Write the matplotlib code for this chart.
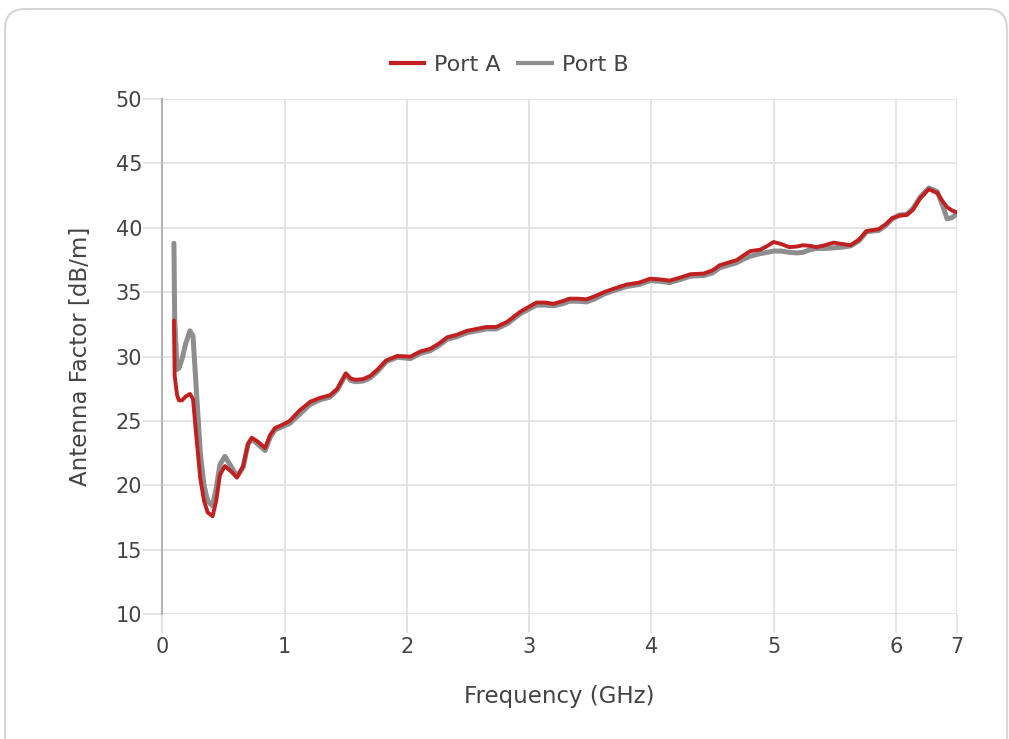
import matplotlib
matplotlib.use("Agg")
import matplotlib.pyplot as plt
from matplotlib.patches import FancyBboxPatch
from matplotlib.lines import Line2D

# frequency points (GHz)
freq = [0.094, 0.10, 0.12, 0.135, 0.16, 0.19, 0.225, 0.25, 0.28, 0.31,
        0.34, 0.37, 0.41, 0.44, 0.47, 0.51, 0.56, 0.61, 0.66, 0.70,
        0.73, 0.78, 0.84, 0.88, 0.92, 0.98, 1.04, 1.12, 1.21, 1.29,
        1.37, 1.43, 1.50, 1.54, 1.58, 1.64, 1.70, 1.76, 1.83, 1.92,
        2.03, 2.11, 2.19, 2.26, 2.33, 2.41, 2.49, 2.57, 2.65, 2.73,
        2.82, 2.93, 3.06, 3.13, 3.20, 3.27, 3.33, 3.40, 3.47, 3.54,
        3.61, 3.70, 3.80, 3.90, 3.99, 4.07, 4.15, 4.24, 4.32, 4.43,
        4.50, 4.56, 4.63, 4.70, 4.76, 4.81, 4.89, 4.95, 5.00, 5.06,
        5.13, 5.19, 5.24, 5.30, 5.35, 5.42, 5.49, 5.56, 5.63, 5.70,
        5.76, 5.86, 5.92, 5.97, 6.03, 6.09, 6.14, 6.20, 6.27, 6.34,
        6.38, 6.42, 6.46, 6.50]

port_a = [32.8, 28.5, 27.0, 26.6, 26.6, 26.9, 27.1, 26.7, 23.5, 20.5,
          18.8, 17.9, 17.6, 18.8, 20.8, 21.5, 21.1, 20.6, 21.5, 23.2,
          23.7, 23.4, 22.9, 23.9, 24.45, 24.7, 25.0, 25.8, 26.5, 26.8,
          27.0, 27.5, 28.7, 28.3, 28.2, 28.25, 28.5, 29.0, 29.7, 30.05,
          30.0, 30.4, 30.6, 31.0, 31.5, 31.7, 32.0, 32.15, 32.3, 32.3,
          32.7, 33.5, 34.2, 34.2, 34.1, 34.3, 34.5, 34.5, 34.45, 34.7,
          35.0, 35.3, 35.6, 35.75, 36.05, 36.0, 35.9, 36.15, 36.4, 36.45,
          36.7, 37.1, 37.3, 37.5, 37.9, 38.2, 38.3, 38.6, 38.9, 38.75,
          38.5, 38.55, 38.65, 38.6, 38.5, 38.65, 38.85, 38.75, 38.65, 39.1,
          39.75, 39.9, 40.3, 40.75, 40.95, 41.0, 41.4, 42.3, 43.0, 42.7,
          42.1, 41.6, 41.35, 41.2]

port_b = [38.8, 33.0, 29.0, 29.1, 29.8, 31.0, 32.0, 31.6, 27.0, 22.5,
          20.0, 18.8, 18.4, 19.8, 21.6, 22.25, 21.5, 20.7, 21.4, 23.2,
          23.6, 23.2, 22.7, 23.7, 24.3, 24.55, 24.8, 25.5, 26.3, 26.65,
          26.85, 27.4, 28.6, 28.15, 28.05, 28.1, 28.35, 28.85, 29.6, 29.95,
          29.85, 30.25, 30.45, 30.85, 31.35, 31.55, 31.85, 32.0, 32.15, 32.15,
          32.55, 33.35, 34.0, 34.0, 33.95, 34.1, 34.3, 34.3, 34.25, 34.5,
          34.85, 35.15, 35.45, 35.6, 35.9, 35.85, 35.75, 36.0, 36.25, 36.3,
          36.5, 36.9, 37.1, 37.3, 37.6, 37.8, 38.0, 38.1, 38.2, 38.2,
          38.1, 38.05, 38.1, 38.3, 38.4, 38.4, 38.45, 38.5, 38.6, 39.0,
          39.7, 39.8, 40.2, 40.7, 41.0, 41.05, 41.5, 42.4, 43.1, 42.8,
          41.8, 40.7, 40.8, 41.1]

x_ticks = [0, 1, 2, 3, 4, 5, 6, 6.5]
x_tick_labels = ["0", "1", "2", "3", "4", "5", "6", "7"]
y_ticks = [10, 15, 20, 25, 30, 35, 40, 45, 50]

plt.rcParams['font.family'] = ['DejaVu Sans']
text_color = '#444444'
grid_color = '#e2e2e2'

fig = plt.figure(figsize=(10.09, 7.39), dpi=100)

# rounded card outline
card = FancyBboxPatch((0.25, -0.5), 9.62, 7.6,
                      boxstyle="round,pad=0.2,rounding_size=0.2",
                      transform=fig.dpi_scale_trans, facecolor='none',
                      edgecolor='#d6d6d6', linewidth=1.5, zorder=-1)
fig.patches.append(card)

ax = fig.add_axes([0.161, 0.169, 0.7874, 0.6969])
ax.set_facecolor('none')

ax.plot(freq, port_b, color='#8e8e8e', linewidth=3.6, solid_joinstyle='round',
        solid_capstyle='round', zorder=3)
ax.plot(freq, port_a, color='#c0201f', linewidth=2.8, solid_joinstyle='round',
        solid_capstyle='round', zorder=4)

ax.set_xlim(0, 6.5)
ax.set_ylim(10, 50)
ax.set_xticks(x_ticks)
ax.set_xticklabels(x_tick_labels)
ax.set_yticks(y_ticks)

ax.grid(True, color=grid_color, linewidth=1.3)
ax.set_axisbelow(True)
for side in ['top', 'right', 'bottom']:
    ax.spines[side].set_visible(False)
ax.spines['left'].set_color('#b3b3b3')
ax.spines['left'].set_linewidth(1.5)

ax.tick_params(axis='both', colors=grid_color, length=13.5, width=1.3,
               labelsize=15, labelcolor=text_color)
ax.tick_params(axis='y', pad=1)
ax.tick_params(axis='x', pad=3)

ax.set_xlabel('Frequency (GHz)', fontsize=16.5, color=text_color, labelpad=20)
ax.set_ylabel('Antenna Factor [dB/m]', fontsize=16.5, color=text_color, labelpad=17)

handles = [Line2D([], [], color='#c0201f', linewidth=3),
           Line2D([], [], color='#8e8e8e', linewidth=3)]
fig.legend(handles, ['Port A', 'Port B'], loc='center', bbox_to_anchor=(0.505, 0.912),
           ncol=2, frameon=False, fontsize=16, handlelength=1.5, handletextpad=0.45,
           columnspacing=0.8, labelcolor=text_color)

fig.savefig('out.png', dpi=100)
